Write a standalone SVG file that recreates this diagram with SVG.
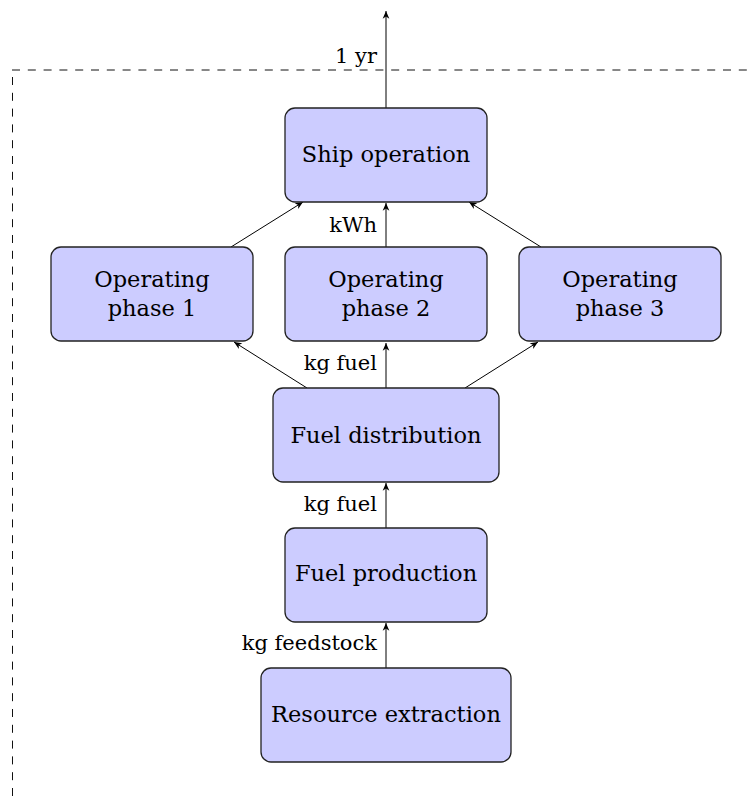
<svg xmlns="http://www.w3.org/2000/svg" width="748" height="796" viewBox="0 0 748 796">
  <defs>
    <marker id="arr" markerWidth="10" markerHeight="10" refX="0" refY="0" viewBox="-8 -4 9 8" markerUnits="userSpaceOnUse" orient="auto" overflow="visible">
      <path d="M0,0 L-7,-3 L-5,0 L-7,3 Z" fill="#000"/>
    </marker>
  </defs>
  <style>
    .box { fill: #ccccff; stroke: #222; stroke-width: 1.3; }
    .t { font-family: "DejaVu Serif", "Liberation Serif", serif; font-size: 22.5px; fill: #000; text-anchor: middle; }
    .lbl { font-family: "DejaVu Serif", "Liberation Serif", serif; font-size: 21px; fill: #000; text-anchor: end; }
    .edge { stroke: #000; stroke-width: 1; fill: none; marker-end: url(#arr); }
    .dash { stroke: #111; stroke-width: 1; fill: none; stroke-dasharray: 8 7.8; }
  </style>
  <rect width="748" height="796" fill="#fff"/>

  <g id="boundary">
    <path class="dash" d="M12,70 H748"/>
    <path class="dash" d="M12.5,77 V796"/>
  </g>

  <g id="connectors">
    <path class="edge" d="M386,108 V11"/>
    <path class="edge" d="M386,247 V203"/>
    <path class="edge" d="M231,247 L303,202"/>
    <path class="edge" d="M541,247 L469,202"/>
    <path class="edge" d="M386,388 V343"/>
    <path class="edge" d="M307,388 L234,342"/>
    <path class="edge" d="M465,388 L538,342"/>
    <path class="edge" d="M386,528 V483"/>
    <path class="edge" d="M386,668 V623"/>
    <text class="lbl" x="377" y="63">1 yr</text>
    <text class="lbl" x="377" y="232">kWh</text>
    <text class="lbl" x="377" y="370">kg fuel</text>
    <text class="lbl" x="377" y="511">kg fuel</text>
    <text class="lbl" x="377" y="650">kg feedstock</text>
  </g>

  <g id="ship">
    <rect class="box" x="285" y="108" width="202" height="94" rx="10"/>
    <text class="t" x="386" y="162">Ship operation</text>
  </g>
  <g id="phase1">
    <rect class="box" x="51" y="247" width="202" height="94" rx="10"/>
    <text class="t" x="152" y="287">Operating</text>
    <text class="t" x="152" y="316">phase 1</text>
  </g>
  <g id="phase2">
    <rect class="box" x="285" y="247" width="202" height="94" rx="10"/>
    <text class="t" x="386" y="287">Operating</text>
    <text class="t" x="386" y="316">phase 2</text>
  </g>
  <g id="phase3">
    <rect class="box" x="519" y="247" width="202" height="94" rx="10"/>
    <text class="t" x="620" y="287">Operating</text>
    <text class="t" x="620" y="316">phase 3</text>
  </g>
  <g id="distribution">
    <rect class="box" x="273" y="388" width="226" height="94" rx="10"/>
    <text class="t" x="386" y="443">Fuel distribution</text>
  </g>
  <g id="production">
    <rect class="box" x="285" y="528" width="202" height="94" rx="10"/>
    <text class="t" x="386" y="581">Fuel production</text>
  </g>
  <g id="extraction">
    <rect class="box" x="261" y="668" width="250" height="94" rx="10"/>
    <text class="t" x="386" y="722">Resource extraction</text>
  </g>
</svg>
